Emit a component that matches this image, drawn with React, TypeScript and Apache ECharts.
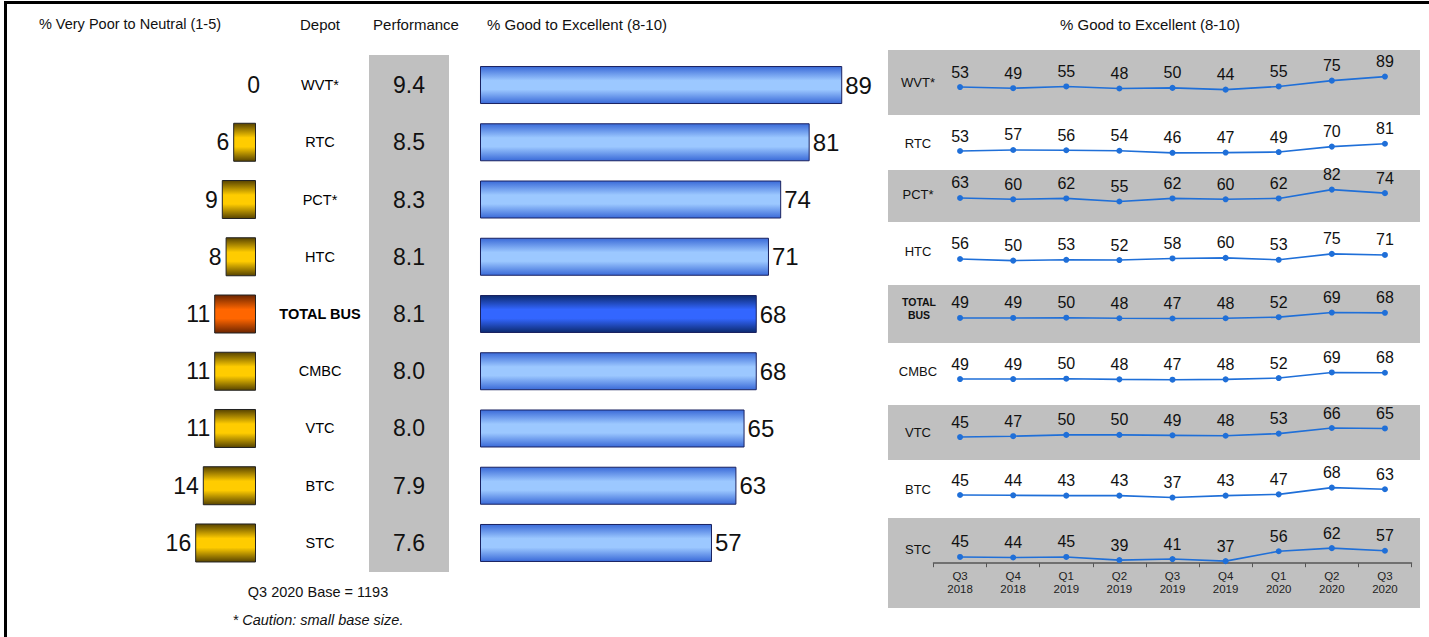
import React, { useEffect, useRef } from "react";
import * as echarts from "echarts";

// ---- data ----
const depots = ["WVT*", "RTC", "PCT*", "HTC", "TOTAL BUS", "CMBC", "VTC", "BTC", "STC"];
const poorPct = [0, 6, 9, 8, 11, 11, 11, 14, 16];
const performance = [9.4, 8.5, 8.3, 8.1, 8.1, 8.0, 8.0, 7.9, 7.6];
const goodPct = [89, 81, 74, 71, 68, 68, 65, 63, 57];
const quarters = ["Q3\n2018", "Q4\n2018", "Q1\n2019", "Q2\n2019", "Q3\n2019", "Q4\n2019", "Q1\n2020", "Q2\n2020", "Q3\n2020"];
const trendWVT = [53, 49, 55, 48, 50, 44, 55, 75, 89];
const trendRTC = [53, 57, 56, 54, 46, 47, 49, 70, 81];
const trendPCT = [63, 60, 62, 55, 62, 60, 62, 82, 74];
const trendHTC = [56, 50, 53, 52, 58, 60, 53, 75, 71];
const trendTotal = [49, 49, 50, 48, 47, 48, 52, 69, 68];
const trendCMBC = [49, 49, 50, 48, 47, 48, 52, 69, 68];
const trendVTC = [45, 47, 50, 50, 49, 48, 53, 66, 65];
const trendBTC = [45, 44, 43, 43, 37, 43, 47, 68, 63];
const trendSTC = [45, 44, 45, 39, 41, 37, 56, 62, 57];
const trends = [trendWVT, trendRTC, trendPCT, trendHTC, trendTotal, trendCMBC, trendVTC, trendBTC, trendSTC];
const trendLabels = ["WVT*", "RTC", "PCT*", "HTC", "TOTAL\nBUS", "CMBC", "VTC", "BTC", "STC"];
const totalIndex = 4;
const baseNote = "Q3 2020 Base = 1193";
const cautionNote = "* Caution: small base size.";

// ---- layout ----
const FONT = "Liberation Sans, Arial, sans-serif";
const ROWS_TOP = 56.4;
const ROWS_HEIGHT = 515.2;
// per-row trend plot boxes (top, height) and y-axis minimum
const trendTop = [73.4, 138.8, 181.7, 247.1, 304.2, 362.2, 413.4, 477.4, 528.4];
const trendHeight = [20.3, 18.2, 30.8, 18.9, 18.9, 23.1, 30.1, 22.4, 34.8];
const trendMin = [30, 30, 30, 30, 30, 30, 30, 30, 33];
const trendLabelY = [82, 143, 194, 251, 308, 371, 432, 489, 549];
const bands: [number, number][] = [[50, 115], [170, 222], [285, 343], [405, 460], [518, 608]];

const vGrad = (edge: string, mid: string) =>
  new echarts.graphic.LinearGradient(0, 0, 0, 1, [
    { offset: 0, color: edge },
    { offset: 0.38, color: mid },
    { offset: 0.62, color: mid },
    { offset: 1, color: edge },
  ]);

export default function App() {
  const ref = useRef<HTMLDivElement>(null);

  useEffect(() => {
    if (!ref.current) return;
    const chart = echarts.init(ref.current, null, { renderer: "svg" });

    const grids: any[] = [
      { left: 180, width: 76, top: ROWS_TOP, height: ROWS_HEIGHT },
      { left: 480, width: 407, top: ROWS_TOP, height: ROWS_HEIGHT },
    ];
    const xAxes: any[] = [
      { gridIndex: 0, type: "value", min: 0, max: 20, inverse: true, show: false },
      { gridIndex: 1, type: "value", min: 0, max: 100, show: false },
    ];
    const yAxes: any[] = [
      {
        gridIndex: 0,
        type: "category",
        data: depots,
        inverse: true,
        position: "right",
        axisLine: { show: false },
        axisTick: { show: false },
        axisLabel: {
          margin: 64,
          align: "center",
          fontFamily: FONT,
          fontSize: 14.5,
          color: "#000",
          formatter: (v: string) => (v === depots[totalIndex] ? `{b|${v}}` : v),
          rich: { b: { fontWeight: "bold", fontSize: 14.5, fontFamily: FONT, color: "#000" } },
        },
      },
      {
        gridIndex: 1,
        type: "category",
        data: depots,
        inverse: true,
        position: "left",
        axisLine: { show: false },
        axisTick: { show: false },
        axisLabel: {
          margin: 71,
          align: "center",
          fontFamily: FONT,
          fontSize: 23,
          color: "#111",
          formatter: (_v: string, i: number) => performance[i].toFixed(1),
        },
      },
    ];

    const series: any[] = [
      {
        type: "bar",
        xAxisIndex: 0,
        yAxisIndex: 0,
        barWidth: 39,
        data: poorPct.map((v, i) => ({
          value: v,
          itemStyle: {
            color: i === totalIndex ? vGrad("#6a2400", "#ff6600") : vGrad("#574300", "#ffcc00"),
            borderColor: "#222",
            borderWidth: v === 0 ? 0 : 1,
          },
          label: v === 0 ? { offset: [8, 0] } : undefined,
        })),
        label: { show: true, position: "left", distance: 4, fontFamily: FONT, fontSize: 23, color: "#111" },
      },
      {
        type: "bar",
        xAxisIndex: 1,
        yAxisIndex: 1,
        barWidth: 38,
        data: goodPct.map((v, i) => ({
          value: v,
          itemStyle: {
            color: i === totalIndex ? vGrad("#0c2a6e", "#3366ff") : vGrad("#3a6ad8", "#9cc8ff"),
            borderColor: "#1a2260",
            borderWidth: 1,
          },
        })),
        label: { show: true, position: "right", distance: 3, fontFamily: FONT, fontSize: 24, color: "#111" },
      },
    ];

    trends.forEach((vals, r) => {
      const gi = grids.length;
      const last = r === trends.length - 1;
      grids.push({ left: 933.5, width: 478, top: trendTop[r], height: trendHeight[r] });
      xAxes.push({
        gridIndex: gi,
        type: "category",
        data: quarters,
        boundaryGap: true,
        show: last,
        axisLine: { show: true, lineStyle: { color: "#555", width: 1.5 } },
        axisTick: { show: true, length: 4, lineStyle: { color: "#555" } },
        axisLabel: { fontFamily: FONT, fontSize: 11.5, lineHeight: 13, color: "#222", margin: 6, interval: 0 },
      });
      yAxes.push({ gridIndex: gi, type: "value", min: trendMin[r], max: 100, show: false });
      series.push({
        type: "line",
        xAxisIndex: gi,
        yAxisIndex: gi,
        data: vals,
        symbol: "circle",
        symbolSize: 6,
        itemStyle: { color: "#1f6fd8" },
        lineStyle: { color: "#1f6fd8", width: 1.6 },
        label: { show: true, position: "top", distance: 4, fontFamily: FONT, fontSize: 16, color: "#111" },
      });
    });

    const text = (content: string, x: number, y: number, extra: any = {}) => ({
      type: "text",
      x,
      y,
      style: {
        text: content,
        fontFamily: FONT,
        fontSize: 15,
        fill: "#111",
        align: "center",
        verticalAlign: "middle",
        textAlign: "center",
        textVerticalAlign: "middle",
        ...extra,
      },
    });

    const graphic: any[] = [
      { type: "rect", z: -10, shape: { x: 369, y: 55, width: 80, height: 517 }, style: { fill: "#c0c0c0" } },
      ...bands.map(([y0, y1]) => ({
        type: "rect",
        z: -10,
        shape: { x: 888, y: y0, width: 532, height: y1 - y0 },
        style: { fill: "#c0c0c0" },
      })),
      { type: "rect", shape: { x: 4, y: 1, width: 1425, height: 3 }, style: { fill: "#000" } },
      { type: "rect", shape: { x: 4, y: 1, width: 3, height: 636 }, style: { fill: "#000" } },
      text("% Very Poor to Neutral (1-5)", 130, 24, { fontSize: 14.5 }),
      text("Depot", 320, 24),
      text("Performance", 416, 24),
      text("% Good to Excellent (8-10)", 577, 24),
      text("% Good to Excellent (8-10)", 1150, 24),
      text(baseNote, 318, 592, { fontSize: 14.5 }),
      text(cautionNote, 318, 620, { fontStyle: "italic", fontSize: 14.5 }),
      ...trendLabels.map((l, r) =>
        r === totalIndex
          ? text(l, 919, trendLabelY[r], { fontWeight: "bold", fontSize: 10.5, lineHeight: 13 })
          : text(l, 918, trendLabelY[r], { fontSize: 13 })
      ),
    ];

    chart.setOption({
      animation: false,
      backgroundColor: "#fff",
      grid: grids,
      xAxis: xAxes,
      yAxis: yAxes,
      series,
      graphic,
    });

    return () => chart.dispose();
  }, []);

  return (
    <div
      ref={ref}
      style={{ position: "fixed", left: 0, top: 0, width: 1429, height: 637, background: "#fff" }}
    />
  );
}
